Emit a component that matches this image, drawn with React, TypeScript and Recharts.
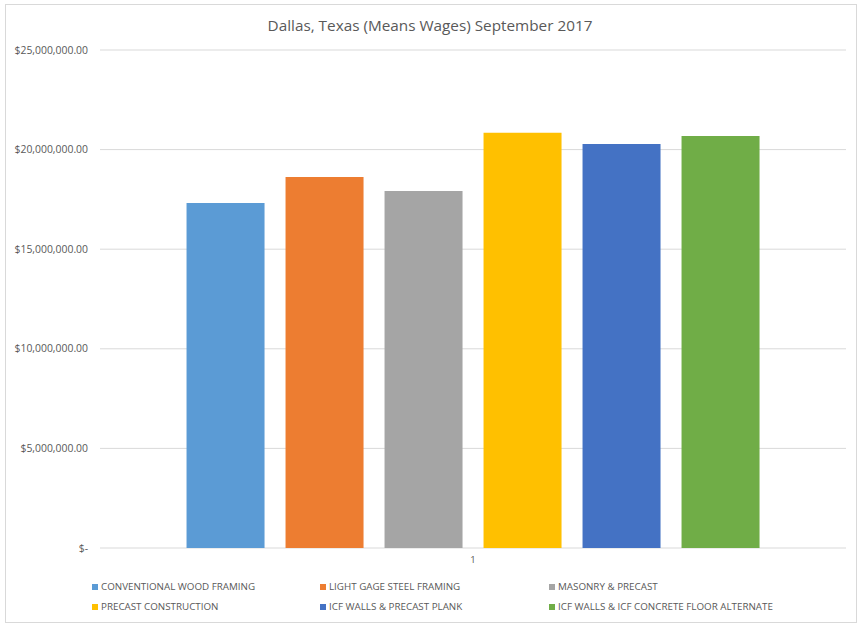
import { BarChart, Bar, XAxis, YAxis, CartesianGrid } from "recharts";

const categories = ["1"];
const seriesNames = [
  "CONVENTIONAL WOOD FRAMING",
  "LIGHT GAGE STEEL FRAMING",
  "MASONRY & PRECAST",
  "PRECAST CONSTRUCTION",
  "ICF WALLS & PRECAST PLANK",
  "ICF WALLS & ICF CONCRETE FLOOR ALTERNATE",
];
const seriesValues = [17320000, 18630000, 17920000, 20840000, 20280000, 20680000];
const seriesColors = ["#5B9BD5", "#ED7D31", "#A5A5A5", "#FFC000", "#4472C4", "#70AD47"];
const yTicks = [0, 5000000, 10000000, 15000000, 20000000, 25000000];

const keys = seriesNames.map((_, i) => `s${i}`);
const data = categories.map((c) => {
  const row: Record<string, string | number> = { name: c };
  keys.forEach((k, i) => (row[k] = seriesValues[i]));
  return row;
});

const FONT = "'Open Sans', 'Liberation Sans', sans-serif";
const GREY = "#595959";

function money(v: number) {
  if (v === 0) return "$-";
  return "$" + v.toLocaleString("en-US", { minimumFractionDigits: 2, maximumFractionDigits: 2 });
}

/* ── Legend, two rows of three like Excel ── */
const legendCols = [92, 320, 549];
function ChartLegend() {
  return (
    <div style={{ position: "absolute", left: 0, top: 580, width: 860, fontFamily: FONT }}>
      {seriesNames.map((n, i) => (
        <div
          key={n}
          style={{
            position: "absolute",
            left: legendCols[i % 3],
            top: Math.floor(i / 3) * 20,
            fontSize: 9.8,
            color: GREY,
            display: "flex",
            alignItems: "center",
            whiteSpace: "nowrap",
          }}
        >
          <span style={{ width: 6, height: 6, background: seriesColors[i], marginRight: 3, display: "inline-block" }} />
          {n}
        </div>
      ))}
    </div>
  );
}

export default function App() {
  return (
    <div style={{ position: "absolute", left: 0, top: 0, width: 860, height: 627, background: "#fff" }}>
      <div
        style={{
          position: "absolute",
          left: 5,
          top: 4,
          width: 850,
          height: 617,
          border: "1px solid #d9d9d9",
        }}
      />
      <div
        style={{
          position: "absolute",
          top: 15,
          left: 0,
          width: 860,
          textAlign: "center",
          fontFamily: FONT,
          fontSize: 15.3,
          color: GREY,
        }}
      >
        Dallas, Texas (Means Wages) September 2017
      </div>
      <div style={{ position: "absolute", left: 0, top: 0 }}>
        <BarChart
          width={860}
          height={627}
          data={data}
          margin={{ top: 50, right: 14, left: 10, bottom: 51 }}
          barCategoryGap="11.6%"
          barGap={21}
        >
          <CartesianGrid vertical={false} stroke="#d9d9d9" />
          <XAxis
            dataKey="name"
            axisLine={false}
            tickLine={false}
            height={28}
            tick={{ fontSize: 9.5, fill: GREY, fontFamily: FONT }}
          />
          <YAxis
            width={90}
            domain={[0, 25000000]}
            ticks={yTicks}
            axisLine={false}
            tickLine={false}
            tickFormatter={money}
            tick={{ fontSize: 10.4, fill: GREY, fontFamily: FONT, dx: -4 }}
          />
          {keys.map((k, i) => (
            <Bar key={k} dataKey={k} name={seriesNames[i]} fill={seriesColors[i]} isAnimationActive={false} />
          ))}
        </BarChart>
      </div>
      <ChartLegend />
    </div>
  );
}
